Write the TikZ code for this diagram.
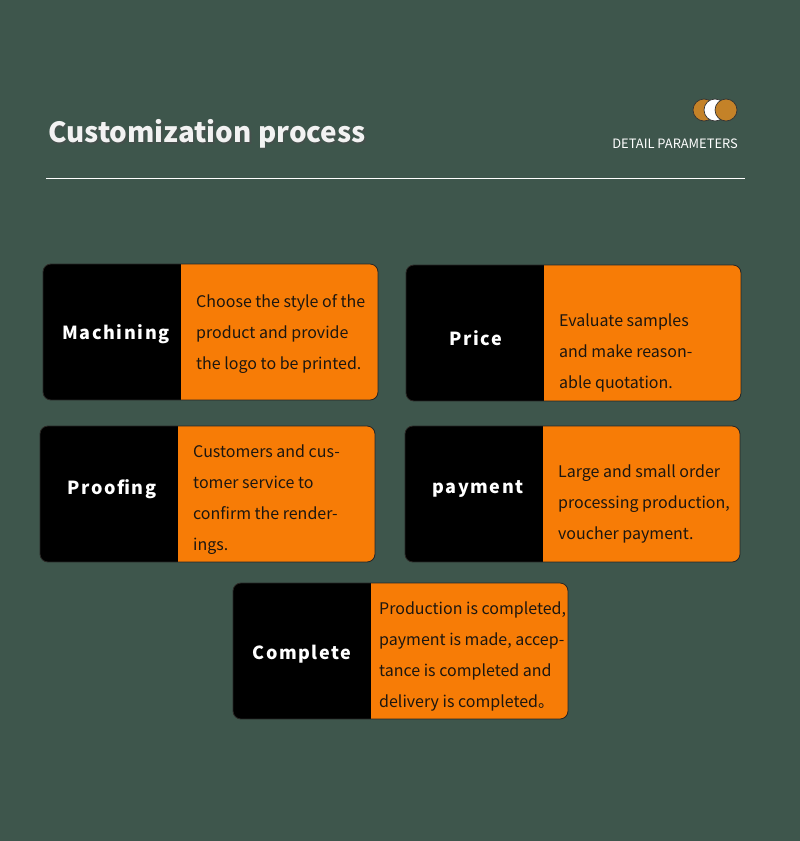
\documentclass[tikz,border=0pt]{standalone}
\usepackage{fontspec}
\setmainfont{Noto Sans CJK SC}
\newfontfamily\titlefont{Noto Sans CJK SC}
\newfontfamily\bodyfont{Noto Sans CJK SC}
\newfontfamily\labelfont[LetterSpace=9]{Noto Sans CJK SC}
\definecolor{bgc}{RGB}{62,86,76}
\definecolor{orng}{RGB}{247,124,6}
\definecolor{circc}{RGB}{196,130,40}
\definecolor{bodyc}{RGB}{28,22,16}
\tikzset{
  labeltext/.style={text=white, font=\labelfont\bfseries\fontsize{18}{22}\selectfont, inner sep=0},
  bodytext/.style={text=bodyc, font=\bodyfont\fontsize{16}{31}\selectfont, align=left, anchor=west, inner sep=0},
  boxframe/.style={draw=black!85, line width=0.8pt, rounded corners=8},
  dot/.style={circle, draw=black!80, line width=0.7pt, minimum size=22, inner sep=0},
  titletext/.style={anchor=west, inner sep=0, font=\titlefont\bfseries\fontsize{27.8}{32}\selectfont}
}
\newcommand\procbox[6]{% name, x0, y0, labelx, labely, label
  \begin{scope}
    \clip[rounded corners=8] (#2,#3) rectangle ++(335,136);
    \fill[orng] (#2,#3) rectangle ++(335,136);
    \fill[black] (#2,#3) rectangle ++(138,136);
  \end{scope}
  \path[boxframe] (#2,#3) rectangle ++(335,136);
  \node[labeltext] (#1-label) at (#4,#5) {#6};
}
\begin{document}
\begin{tikzpicture}[x=1pt,y=-1pt]
\fill[bgc] (0,0) rectangle (800,841);
\useasboundingbox (0,0) rectangle (800,841);
% title
\node[titletext, text=black!70, opacity=0.5] at (49.5,135.5) {Customization process};
\node[titletext, text=white!95!black] (title) at (48,134) {Customization process};
\coordinate (ruleL) at (46,178);
\coordinate (ruleR) at (745,178);
\draw[white, line width=0.9pt] (ruleL) -- (ruleR);
% dots
\node[dot, fill=circc] (d1) at (704,110) {};
\node[dot, fill=white] (d2) at (715,110) {};
\node[dot, fill=circc] (d3) at (726,110) {};
\node[anchor=east, inner sep=0, text=white, font=\bodyfont\fontsize{12.9}{14}\selectfont] (detail) at (738,143.5) {DETAIL PARAMETERS};
% boxes
\procbox{mach}{43}{264}{116}{334}{Machining}
\node[bodytext] (mach-body) at (196,334) {Choose the style of the\\product and provide\\the logo to be printed.};
\procbox{price}{406}{265}{476}{338}{Price}
\node[bodytext] (price-body) at (559,353) {Evaluate samples\\and make reason-\\able quotation.};
\procbox{proof}{40}{426}{112}{489}{Proofing}
\node[bodytext] (proof-body) at (193,499.5) {Customers and cus-\\tomer service to\\confirm the render-\\ings.};
\procbox{pay}{405}{426}{478}{489}{payment}
\node[bodytext] (pay-body) at (558,504) {Large and small order\\processing production,\\voucher payment.};
\procbox{comp}{233}{583}{302}{654}{Complete}
\node[bodytext] (comp-body) at (379,656.5) {Production is completed,\\payment is made, accep-\\tance is completed and\\delivery is completed。};
\end{tikzpicture}
\end{document}
